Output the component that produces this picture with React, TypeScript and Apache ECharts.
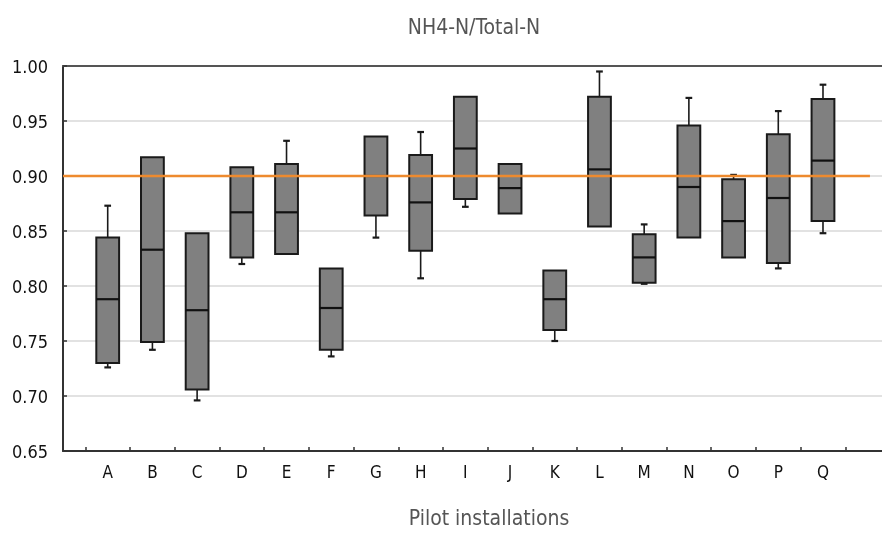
import React, { useEffect, useRef } from "react";
import * as echarts from "echarts";

const categories = ["A","B","C","D","E","F","G","H","I","J","K","L","M","N","O","P","Q"];
const whiskerLow = [0.726,0.742,0.696,0.820,0.829,0.736,0.844,0.807,0.872,0.866,0.750,0.854,0.802,0.844,0.826,0.816,0.848];
const q1 =        [0.730,0.749,0.706,0.826,0.829,0.742,0.864,0.832,0.879,0.866,0.760,0.854,0.803,0.844,0.826,0.821,0.859];
const medians =   [0.788,0.833,0.778,0.867,0.867,0.780,0.900,0.876,0.925,0.889,0.788,0.906,0.826,0.890,0.859,0.880,0.914];
const q3 =        [0.844,0.917,0.848,0.908,0.911,0.816,0.936,0.919,0.972,0.911,0.814,0.972,0.847,0.946,0.897,0.938,0.970];
const whiskerHigh=[0.873,0.917,0.848,0.908,0.932,0.816,0.936,0.940,0.972,0.911,0.814,0.995,0.856,0.971,0.901,0.959,0.983];
const yTicks = [0.65,0.70,0.75,0.80,0.85,0.90,0.95,1.00];
const threshold = 0.9;
const title = "NH4-N/Total-N";
const xName = "Pilot installations";

const FONT = "'DejaVu Sans Condensed', 'DejaVu Sans', sans-serif";

export default function App() {
  const ref = useRef<HTMLDivElement>(null);
  useEffect(() => {
    if (!ref.current) return;
    const chart = echarts.init(ref.current, null, { renderer: "svg" });
    const positions = categories.map((_, i) => i + 1);
    const boxData = categories.map((_, i) => [positions[i], whiskerLow[i], q1[i], medians[i], q3[i], whiskerHigh[i]]);
    const tickPositions = categories.map((_, i) => i + 0.5).concat([categories.length + 0.5]);
    const xMax = 18.32;

    const renderItem = (params: any, api: any) => {
      const x = api.value(0);
      const lo = api.value(1), a = api.value(2), m = api.value(3), b = api.value(4), hi = api.value(5);
      const unit = api.size([1, 0])[0];
      const bw = unit * 0.51;
      const cw = unit * 0.15;
      const pLo = api.coord([x, lo]);
      const pA = api.coord([x, a]);
      const pM = api.coord([x, m]);
      const pB = api.coord([x, b]);
      const pHi = api.coord([x, hi]);
      const cx = pA[0];
      const lineStyle = { stroke: "#1a1a1a", lineWidth: 1.6 };
      const children: any[] = [];
      if (hi - b > 0.0005) {
        children.push({ type: "line", shape: { x1: cx, y1: pB[1], x2: cx, y2: pHi[1] }, style: lineStyle });
        children.push({ type: "line", shape: { x1: cx - cw / 2, y1: pHi[1], x2: cx + cw / 2, y2: pHi[1] }, style: { stroke: "#1a1a1a", lineWidth: 2.2 } });
      }
      if (a - lo > 0.0005) {
        children.push({ type: "line", shape: { x1: cx, y1: pA[1], x2: cx, y2: pLo[1] }, style: lineStyle });
        children.push({ type: "line", shape: { x1: cx - cw / 2, y1: pLo[1], x2: cx + cw / 2, y2: pLo[1] }, style: { stroke: "#1a1a1a", lineWidth: 2.2 } });
      }
      children.push({
        type: "rect",
        shape: { x: cx - bw / 2, y: pB[1], width: bw, height: pA[1] - pB[1] },
        style: { fill: "#808080", stroke: "#1a1a1a", lineWidth: 2 },
      });
      children.push({ type: "line", shape: { x1: cx - bw / 2, y1: pM[1], x2: cx + bw / 2, y2: pM[1] }, style: { stroke: "#111", lineWidth: 2.2 } });
      return { type: "group", children };
    };

    chart.setOption({
      animation: false,
      grid: { left: 63, right: 0, top: 66, bottom: 83, containLabel: false },
      xAxis: [
        {
          type: "value",
          min: 0,
          max: xMax,
          splitLine: { show: false },
          axisLine: { show: true, onZero: false, lineStyle: { color: "#333", width: 2 } },
          axisTick: { show: true, inside: true, length: 4, customValues: tickPositions, lineStyle: { color: "#333", width: 1.5 } },
          axisLabel: {
            show: true,
            customValues: positions,
            formatter: (v: number) => categories[Math.round(v) - 1] || "",
            color: "#111",
            fontFamily: FONT,
            fontSize: 17,
            margin: 12,
          },
        },
        {
          type: "value",
          position: "top",
          min: 0,
          max: xMax,
          splitLine: { show: false },
          axisLine: { show: true, onZero: false, lineStyle: { color: "#555", width: 2 } },
          axisTick: { show: false },
          axisLabel: { show: false },
        },
      ],
      yAxis: {
        type: "value",
        min: 0.65,
        max: 1.0,
        interval: 0.05,
        axisLine: { show: true, lineStyle: { color: "#333", width: 2 } },
        axisTick: { show: true, inside: true, length: 4, lineStyle: { color: "#333", width: 1.5 } },
        axisLabel: {
          formatter: (v: number) => v.toFixed(2),
          color: "#111",
          fontFamily: FONT,
          fontSize: 18,
          margin: 15,
        },
        splitLine: { show: true, lineStyle: { color: "#d9d9d9", width: 1.5 } },
      },
      series: [
        {
          type: "custom",
          renderItem,
          encode: { x: 0, y: [1, 2, 3, 4, 5] },
          data: boxData,
          z: 2,
        },
        {
          type: "line",
          data: [[0, threshold], [18.05, threshold]],
          symbol: "none",
          lineStyle: { color: "#EE8A2E", width: 2.5 },
          z: 5,
          silent: true,
        },
      ],
      graphic: [
        {
          type: "text",
          x: 474,
          y: 27,
          style: { text: title, align: "center", verticalAlign: "middle", fontFamily: FONT, fontSize: 21, fill: "#555" },
        },
        {
          type: "text",
          x: 489,
          y: 518,
          style: { text: xName, align: "center", verticalAlign: "middle", fontFamily: FONT, fontSize: 21, fill: "#555" },
        },
      ],
    });
    return () => chart.dispose();
  }, []);
  return <div ref={ref} style={{ position: "fixed", left: 0, top: 0, width: 882, height: 534 }} />;
}
